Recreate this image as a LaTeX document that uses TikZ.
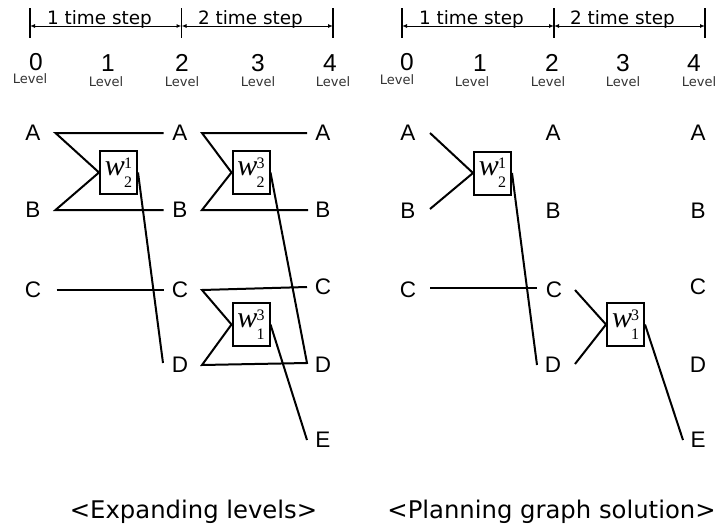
\documentclass[tikz,border=0pt]{standalone}
\usepackage{fontspec}
\newfontfamily\arialf{Liberation Sans}
\newfontfamily\dejavu{DejaVu Sans}
\newfontfamily\timesf{Liberation Serif}
\usetikzlibrary{calc,arrows.meta}
\newcommand{\opw}[2]{{\timesf\itshape\fontsize{30}{30}\selectfont w}\kern-1pt$\vcenter{\hbox{\timesf\fontsize{16}{14}\selectfont\shortstack{#2\\[5pt]#1}}}$}
\begin{document}
\begin{tikzpicture}[x=1pt,y=-1pt,
  letter/.style={font=\arialf\fontsize{22.5}{26}\selectfont, inner sep=0pt},
  digit/.style={font=\arialf\fontsize{24.5}{28}\selectfont, inner sep=0pt, anchor=base},
  lvl/.style={font=\dejavu\fontsize{13}{15}\selectfont, inner sep=0pt, anchor=base, text=black!80},
  steplabel/.style={font=\dejavu\fontsize{18.4}{22}\selectfont, inner sep=0pt, anchor=base},
  captiontext/.style={font=\dejavu\fontsize{24.3}{28}\selectfont, inner sep=0pt, anchor=base},
  opbox/.style={draw, line width=2pt, minimum width=37pt, minimum height=43pt, inner sep=0pt},
  link/.style={line width=2pt},
  tickline/.style={line width=1.5pt},
  dimline/.style={line width=1pt, {Latex[length=5pt,width=4pt]}-{Latex[length=5pt,width=4pt]}}
]
\useasboundingbox[fill=white] (0,0) rectangle (721,525);

% ---------- rulers ----------
\foreach \n/\x in {l0/30,l2/181.5,l4/333,r0/402,r2/554,r4/705}{
  \coordinate (t\n) at (\x,26);
  \draw[tickline] (\x,8) -- (\x,38);
}
\draw[dimline] (tl0) -- (tl2);
\draw[dimline] (tl2) -- (tl4);
\draw[dimline] (tr0) -- (tr2);
\draw[dimline] (tr2) -- (tr4);
\node[steplabel] (sl1) at (99.5,24.5) {1 time step};
\node[steplabel] (sl2) at (250.5,24.5) {2 time step};
\node[steplabel] (sr1) at (471.5,24.5) {1 time step};
\node[steplabel] (sr2) at (622.5,24.5) {2 time step};

% ---------- level numbers ----------
\foreach \n/\x/\y/\t in {dl0/36/70/0,dl1/108/71/1,dl2/182/71/2,dl3/258/71/3,dl4/330/71/4,
                         dr0/407/70/0,dr1/480/71/1,dr2/552/71/2,dr3/623/71/3,dr4/694/71/4}{
  \node[digit] (\n) at (\x,\y) {\t};
}
\foreach \n/\x/\y in {vl0/30/83,vl1/106/86,vl2/182/86,vl3/258/86,vl4/333/86,
                      vr0/397/84,vr1/472/86,vr2/548/86,vr3/623/86,vr4/699/86}{
  \node[lvl] (\n) at (\x,\y) {Level};
}

% ---------- left panel: expanding levels ----------
\node[letter] (LA0) at (33,133) {A};
\node[letter] (LB0) at (33,210) {B};
\node[letter] (LC0) at (33,290) {C};
\node[letter] (LA2) at (180,133) {A};
\node[letter] (LB2) at (180,210) {B};
\node[letter] (LC2) at (180,290) {C};
\node[letter] (LD2) at (180,365) {D};
\node[letter] (LA4) at (323,133) {A};
\node[letter] (LB4) at (323,210) {B};
\node[letter] (LC4) at (323,287) {C};
\node[letter] (LD4) at (323,365) {D};
\node[letter] (LE4) at (323,440) {E};

\node[opbox] (Lw21) at (118.5,172.5) {\opw{2}{1}};
\node[opbox] (Lw23) at (251,172.5) {\opw{2}{3}};
\node[opbox] (Lw13) at (251,324.5) {\opw{1}{3}};

\draw[link] ($(LA2)+(-16.5,0)$) -- ($(LA0)+(22.5,0)$) -- (Lw21.west)
            -- ($(LB0)+(22.5,0)$) -- ($(LB2)+(-16.5,0)$);
\draw[link] ($(LC0)+(23.5,0)$) -- ($(LC2)+(-16.5,0)$);
\draw[link] (Lw21.east) -- ($(LD2)+(-17,-2)$);
\draw[link] ($(LA4)+(-16,0)$) -- ($(LA2)+(22,0)$) -- (Lw23.west)
            -- ($(LB2)+(22,0)$) -- ($(LB4)+(-15,0)$);
\draw[link] (Lw23.east) -- ($(LD4)+(-16,-2)$) -- ($(LD2)+(22,0)$) -- (Lw13.west)
            -- ($(LC2)+(22,0)$) -- ($(LC4)+(-16,0)$);
\draw[link] (Lw13.east) -- ($(LE4)+(-16,0)$);

% ---------- right panel: planning graph solution ----------
\node[letter] (RA0) at (408,133) {A};
\node[letter] (RB0) at (408,211) {B};
\node[letter] (RC0) at (408,290) {C};
\node[letter] (RA2) at (553,133) {A};
\node[letter] (RB2) at (553,211) {B};
\node[letter] (RC2) at (554,290) {C};
\node[letter] (RD2) at (553,365) {D};
\node[letter] (RA4) at (698,133) {A};
\node[letter] (RB4) at (698,211) {B};
\node[letter] (RC4) at (698,287) {C};
\node[letter] (RD4) at (698,365) {D};
\node[letter] (RE4) at (698,440) {E};

\node[opbox] (Rw21) at (492.5,173) {\opw{2}{1}};
\node[opbox] (Rw13) at (625.5,324.5) {\opw{1}{3}};

\draw[link] ($(RA0)+(22,0)$) -- (Rw21.west) -- ($(RB0)+(22,-2)$);
\draw[link] (Rw21.east) -- ($(RD2)+(-16,0)$);
\draw[link] ($(RC0)+(22,-2)$) -- ($(RC2)+(-17,-2)$);
\draw[link] ($(RC2)+(21,0)$) -- (Rw13.west) -- ($(RD2)+(22,-1)$);
\draw[link] (Rw13.east) -- ($(RE4)+(-15,0)$);

% ---------- captions ----------
\node[captiontext] (capl) at (193.5,518) {<Expanding levels>};
\node[captiontext] (capr) at (551.5,518) {<Planning graph solution>};
\end{tikzpicture}
\end{document}
